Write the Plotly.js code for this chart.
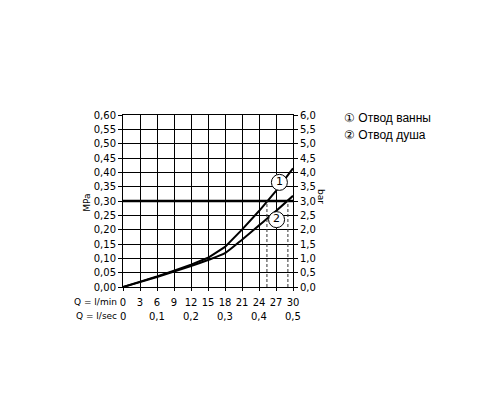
<!DOCTYPE html>
<html>
<head>
<meta charset="utf-8">
<script src="https://cdn.plot.ly/plotly-3.0.1.min.js"></script>
<style>html,body{margin:0;padding:0;background:#fff}#chart{width:500px;height:400px}</style>
</head>
<body>
<div id="chart"></div>
<script>
// Flow in l/min
const flowLmin = [0, 3, 6, 9, 12, 15, 18, 21, 24, 27, 30];
// Pressure (MPa) for outlets
const bathCurve = [0, 0.018, 0.037, 0.057, 0.078, 0.102, 0.140, 0.200, 0.265, 0.335, 0.414];
const showerCurve = [0, 0.017, 0.035, 0.054, 0.073, 0.094, 0.118, 0.165, 0.215, 0.265, 0.318];
// Reference pressure line
const refPressure = 0.30;
const refRange = [0, 30];
// Flow at which each curve reaches the reference pressure
const crossFlow = [25.4, 29.1];
// Curve labels
const labelText = ['1', '2'];
const labelX = [27.6, 27.1];
const labelY = [0.365, 0.235];
// Tick labels
const mpaTicks = [0, 0.05, 0.10, 0.15, 0.20, 0.25, 0.30, 0.35, 0.40, 0.45, 0.50, 0.55, 0.60];
const mpaText = ['0,00','0,05','0,10','0,15','0,20','0,25','0,30','0,35','0,40','0,45','0,50','0,55','0,60'];
const barTicks = [0, 0.5, 1, 1.5, 2, 2.5, 3, 3.5, 4, 4.5, 5, 5.5, 6];
const barText = ['0,0','0,5','1,0','1,5','2,0','2,5','3,0','3,5','4,0','4,5','5,0','5,5','6,0'];
const lminTicks = [0, 3, 6, 9, 12, 15, 18, 21, 24, 27, 30];
const lminText = ['0','3','6','9','12','15','18','21','24','27','30'];
const lsecPos = [0, 6, 12, 18, 24, 30];
const lsecText = ['0','0,1','0,2','0,3','0,4','0,5'];
const legendItems = ['\u2460 Отвод ванны', '\u2461 Отвод душа'];

const F = 'DejaVu Sans, sans-serif';
const traces = [
  {x: flowLmin, y: bathCurve, mode: 'lines', line: {color: '#000', width: 2}, hoverinfo: 'skip'},
  {x: flowLmin, y: showerCurve, mode: 'lines', line: {color: '#000', width: 2, shape: 'spline', smoothing: 0.6}, hoverinfo: 'skip'},
  {x: refRange, y: [refPressure, refPressure], mode: 'lines', line: {color: '#000', width: 2.5}, hoverinfo: 'skip'},
  {x: [crossFlow[0], crossFlow[0]], y: [0, refPressure], mode: 'lines', line: {color: '#333', width: 1, dash: '3px,2px'}, hoverinfo: 'skip'},
  {x: [crossFlow[1], crossFlow[1]], y: [0, refPressure], mode: 'lines', line: {color: '#333', width: 1, dash: '3px,2px'}, hoverinfo: 'skip'},
  {x: labelX, y: labelY, mode: 'markers+text', text: labelText, textposition: 'middle center',
   textfont: {family: F, size: 11, color: '#000'},
   marker: {symbol: 'circle', size: 16, color: '#fff', line: {color: '#000', width: 1}}, hoverinfo: 'skip'},
  {x: [0, 30], y: [0, 6], yaxis: 'y2', mode: 'lines', line: {width: 0}, opacity: 0, hoverinfo: 'skip'}
];

const base = {showarrow: false, xanchor: 'center', yanchor: 'middle'};
const annotations = [
  Object.assign({}, base, {text: 'MPa', xref: 'paper', yref: 'paper', x: -0.2135, y: 0.488, textangle: -90, font: {family: F, size: 9, color: '#000'}}),
  Object.assign({}, base, {text: 'bar', xref: 'paper', yref: 'paper', x: 1.169, y: 0.525, textangle: 90, font: {family: F, size: 9, color: '#000'}}),
  Object.assign({}, base, {text: 'Q = l/min', xref: 'paper', yref: 'paper', x: -0.023, y: -0.088, xanchor: 'right', font: {family: F, size: 9, color: '#000'}}),
  Object.assign({}, base, {text: 'Q = l/sec', xref: 'paper', yref: 'paper', x: -0.023, y: -0.17, xanchor: 'right', font: {family: F, size: 9, color: '#000'}})
];
lsecPos.forEach((p, i) => annotations.push(Object.assign({}, base, {text: lsecText[i], xref: 'x', yref: 'paper', x: p, y: -0.17, font: {family: F, size: 10, color: '#000'}})));
legendItems.forEach((t, i) => annotations.push(Object.assign({}, base, {text: t, xref: 'paper', yref: 'paper', x: 1.29, y: 0.983 - i * 0.099, xanchor: 'left', font: {family: 'Liberation Sans, Arial, sans-serif', size: 12, color: '#000'}})));

const layout = {
  width: 500, height: 400,
  margin: {l: 123, r: 207, t: 115, b: 113},
  paper_bgcolor: '#fff', plot_bgcolor: '#fff',
  showlegend: false,
  font: {family: F, size: 10, color: '#000'},
  xaxis: {range: [0, 30], tickvals: lminTicks, ticktext: lminText, showgrid: true, gridcolor: '#000', gridwidth: 1,
          showline: true, linecolor: '#000', linewidth: 1, mirror: true, ticks: 'outside', ticklen: 3, tickcolor: '#000',
          ticklabelstandoff: 3, zeroline: false, fixedrange: true, tickfont: {family: F, size: 10}},
  yaxis: {range: [0, 0.6], tickvals: mpaTicks, ticktext: mpaText, showgrid: true, gridcolor: '#000', gridwidth: 1,
          showline: true, linecolor: '#000', linewidth: 1, mirror: true, ticks: 'outside', ticklen: 4, tickcolor: '#000',
          zeroline: false, fixedrange: true, tickfont: {family: F, size: 10}},
  yaxis2: {range: [0, 6], overlaying: 'y', side: 'right', tickvals: barTicks, ticktext: barText, showgrid: false,
           showline: true, linecolor: '#000', linewidth: 1, ticks: 'outside', ticklen: 4, tickcolor: '#000',
           zeroline: false, fixedrange: true, tickfont: {family: F, size: 10}},
  annotations: annotations
};
Plotly.newPlot('chart', traces, layout, {staticPlot: true, displayModeBar: false});
</script>
</body>
</html>
